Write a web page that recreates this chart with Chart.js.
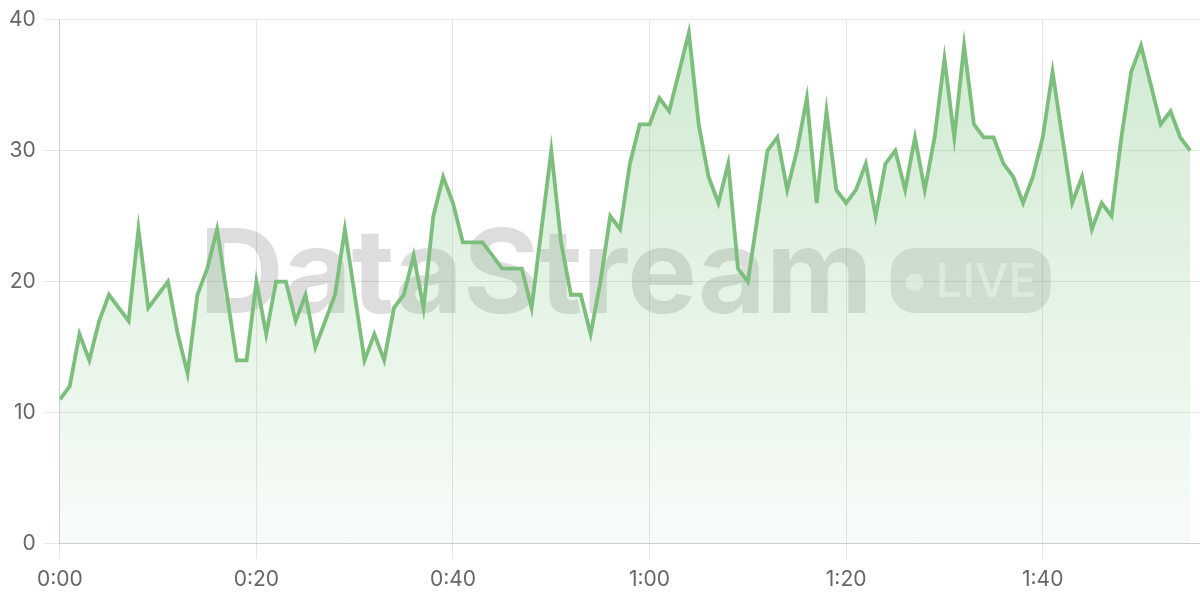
<!DOCTYPE html>
<html lang="en">
  <head>
    <meta charset="UTF-8" />
    <title>DataStream LIVE</title>
    <script src="https://cdn.jsdelivr.net/npm/chart.js"></script>
    <style>
      html, body { margin: 0; padding: 0; background: #fff; }
      .wrap { width: 1200px; height: 600px; position: relative; }
    </style>
  </head>
  <body>
    <div class="wrap">
      <canvas id="liveChart"></canvas>
    </div>
  </body>
</html>

<script>
  // one reading per second, 0:00 .. 1:55
  var seconds = Array.from({ length: 116 }, (_, i) => i);
  var readings = [
    11, 12, 16, 14, 17, 19, 18, 17, 24, 18, 19, 20, 16, 13, 19, 21, 24, 19, 14, 14,
    20, 16, 20, 20, 17, 19, 15, 17, 19, 24, 19, 14, 16, 14, 18, 19, 22, 18, 25, 28,
    26, 23, 23, 23, 22, 21, 21, 21, 18, 24, 30, 23, 19, 19, 16, 20, 25, 24, 29, 32,
    32, 34, 33, 36, 39, 32, 28, 26, 29, 21, 20, 25, 30, 31, 27, 30, 34, 26, 33, 27,
    26, 27, 29, 25, 29, 30, 27, 31, 27, 31, 37, 31, 38, 32, 31, 31, 29, 28, 26, 28,
    31, 36, 31, 26, 28, 24, 26, 25, 31, 36, 38, 35, 32, 33, 31, 30
  ];
  var yTicks = [0, 10, 20, 30, 40];

  function fmtTime(v) {
    var m = Math.floor(v / 60);
    var s = v % 60;
    return m + ":" + String(s).padStart(2, "0");
  }

  // marca d'agua "DataStream  (•LIVE)" atrás da linha
  var watermark = {
    id: "watermark",
    beforeDatasetsDraw(chart) {
      var ctx = chart.ctx;
      var area = chart.chartArea;
      ctx.save();
      ctx.font = "bold 117px Inter";
      ctx.textBaseline = "alphabetic";
      var word = "DataStream";
      var wordW = ctx.measureText(word).width;
      var pillW = 160, pillH = 65, gap = 18;
      var total = wordW + gap + pillW;
      var x0 = (area.left + area.right) / 2 - total / 2 - 5;
      var base = 313;
      ctx.fillStyle = "rgba(0,0,0,0.135)";
      ctx.fillText(word, x0, base);

      var px = x0 + wordW + gap, py = 248;
      ctx.beginPath();
      ctx.roundRect(px, py, pillW, pillH, 24);
      ctx.fillStyle = "rgba(0,0,0,0.11)";
      ctx.fill();

      ctx.fillStyle = "rgba(255,255,255,0.6)";
      ctx.beginPath();
      ctx.arc(px + 24, py + pillH / 2 + 2, 9, 0, Math.PI * 2);
      ctx.fill();
      ctx.font = "500 47px Inter";
      ctx.fillText("LIVE", px + 45, py + 49);
      ctx.restore();
    },
  };

  const ctx = document.getElementById("liveChart");
  new Chart(ctx, {
    type: "line",
    data: {
      datasets: [
        {
          label: "Live",
          data: seconds.map((s, i) => ({ x: s, y: readings[i] })),
          borderColor: "rgb(124,190,124)",
          borderWidth: 3.8,
          pointRadius: 0,
          tension: 0,
          fill: true,
          backgroundColor: function (context) {
            var chart = context.chart;
            var area = chart.chartArea;
            if (!area) return "rgba(129,199,132,0.2)";
            var g = chart.ctx.createLinearGradient(0, area.top, 0, area.bottom);
            g.addColorStop(0, "rgba(129,199,132,0.38)");
            g.addColorStop(1, "rgba(129,199,132,0.06)");
            return g;
          },
        },
      ],
    },
    options: {
      responsive: true,
      maintainAspectRatio: false,
      animation: false,
      layout: { padding: { top: 8, right: 0, left: 0, bottom: 0 } },
      plugins: {
        legend: { display: false },
        tooltip: { enabled: false },
      },
      scales: {
        x: {
          type: "linear",
          min: 0,
          max: 116,
          ticks: {
            stepSize: 20,
            includeBounds: false,
            color: "#666",
            font: { family: "Inter", size: 21 },
            padding: 8,
            callback: (v) => fmtTime(v),
            maxRotation: 0,
          },
          grid: { color: "#e6e6e6", tickLength: 15 },
          border: { color: "#cfcfcf" },
        },
        y: {
          min: 0,
          max: 40,
          afterBuildTicks: (axis) => {
            axis.ticks = yTicks.map((v) => ({ value: v }));
          },
          ticks: {
            color: "#666",
            font: { family: "Inter", size: 21, lineHeight: 1.0 },
            padding: 9,
          },
          grid: { color: "#e6e6e6", tickLength: 15 },
          border: { color: "#cfcfcf" },
        },
      },
    },
    plugins: [watermark],
  });
</script>
